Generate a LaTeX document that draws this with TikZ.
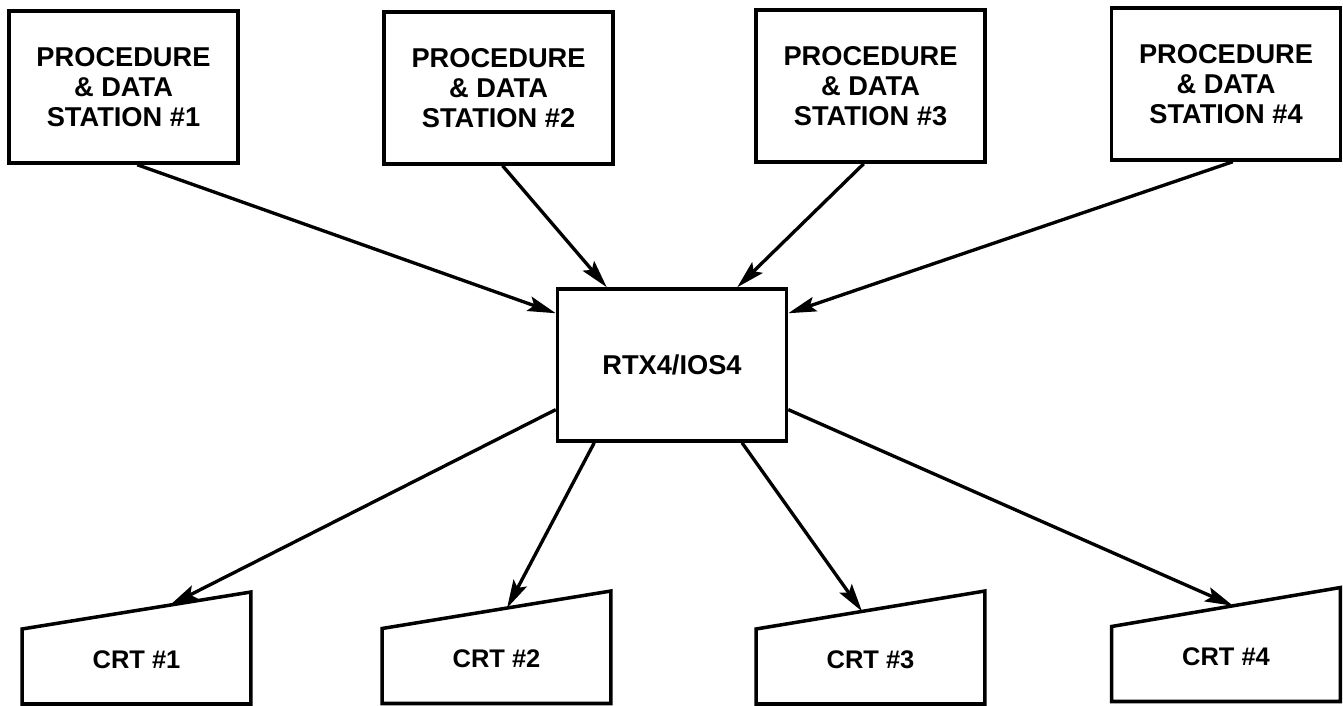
\documentclass[tikz,border=0pt]{standalone}
\usepackage{fontspec}
\setmainfont{Liberation Sans}
\usetikzlibrary{arrows.meta, calc}

\begin{document}
\begin{tikzpicture}[x=0.02cm, y=-0.02cm,
  stationbox/.style={draw, line width=2pt, minimum width=4.58cm, minimum height=3.04cm,
    align=center, font=\fontsize{15.5}{17}\selectfont\bfseries},
  crtbody/.style={outer sep=0pt, minimum width=4.58cm, minimum height=1.5cm, text depth=0.28cm,
    font=\fontsize{14.5}{17}\selectfont\bfseries},
  crtline/.style={line width=2pt, line join=miter},
  feed/.style={-{Stealth[length=16pt, width=8.5pt, inset=3pt]}, line width=1.9pt}]

\useasboundingbox (0,0) rectangle (1343,706);

% ============================================================
% 上排：四个工作站
% ============================================================
\node[stationbox] (st1) at (123.5,87) {PROCEDURE\\\& DATA\\STATION \#1};
\node[stationbox] (st2) at (498.5,88) {PROCEDURE\\\& DATA\\STATION \#2};
\node[stationbox] (st3) at (870.5,86) {PROCEDURE\\\& DATA\\STATION \#3};
\node[stationbox] (st4) at (1226,84) {PROCEDURE\\\& DATA\\STATION \#4};

% ============================================================
% 中间：RTX4/IOS4
% ============================================================
\node[stationbox] (rtx) at (672,365) {RTX4/IOS4};

% ============================================================
% 下排：四个 CRT（斜顶）
% ============================================================
\node[crtbody] (crt1) at (136.5,666.5) {CRT \#1};
\coordinate (crt1-tr) at ($(crt1.north east)+(0,-37)$);
\draw[crtline] (crt1.south west) -- (crt1.north west) -- (crt1-tr) -- (crt1.south east) -- cycle;
\coordinate (crt1-in) at ($(crt1.north west)!0.646!(crt1-tr)$);

\node[crtbody] (crt2) at (496.5,666) {CRT \#2};
\coordinate (crt2-tr) at ($(crt2.north east)+(0,-37.5)$);
\draw[crtline] (crt2.south west) -- (crt2.north west) -- (crt2-tr) -- (crt2.south east) -- cycle;
\coordinate (crt2-in) at ($(crt2.north west)!0.546!(crt2-tr)$);

\node[crtbody] (crt3) at (870.5,666.5) {CRT \#3};
\coordinate (crt3-tr) at ($(crt3.north east)+(0,-38)$);
\draw[crtline] (crt3.south west) -- (crt3.north west) -- (crt3-tr) -- (crt3.south east) -- cycle;
\coordinate (crt3-in) at ($(crt3.north west)!0.463!(crt3-tr)$);

\node[crtbody] (crt4) at (1226,664) {CRT \#4};
\coordinate (crt4-tr) at ($(crt4.north east)+(0,-39)$);
\draw[crtline] (crt4.south west) -- (crt4.north west) -- (crt4-tr) -- (crt4.south east) -- cycle;
\coordinate (crt4-in) at ($(crt4.north west)!0.531!(crt4-tr)$);

% ============================================================
% 连线
% ============================================================
% 工作站 -> RTX4/IOS4
\draw[feed] (st1.280.8) -- (rtx.156.5);
\draw[feed] (st2.273.4) -- (rtx.130.5);
\draw[feed] (st3.265.9) -- (rtx.50.3);
\draw[feed] (st4.275) -- (rtx.24.3);

% RTX4/IOS4 -> CRT
\draw[feed] (rtx.201.4) -- (crt1-in);
\draw[feed] (rtx.225.8) -- (crt2-in);
\draw[feed] (rtx.312.6) -- (crt3-in);
\draw[feed] (rtx.339.5) -- (crt4-in);

\end{tikzpicture}
\end{document}
